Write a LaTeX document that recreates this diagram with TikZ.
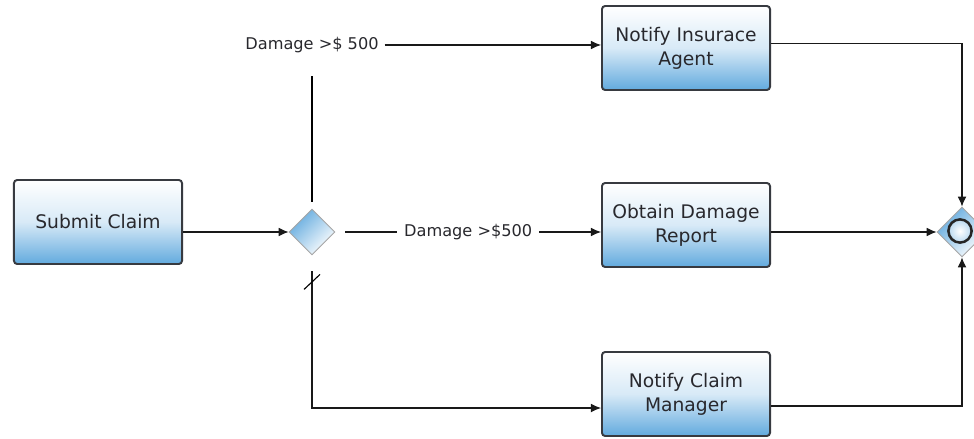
\documentclass[tikz,border=0pt]{standalone}
\usepackage{fontspec}
\setmainfont{DejaVu Sans}
\usetikzlibrary{shapes.geometric,arrows.meta}
\definecolor{taskblue}{RGB}{98,170,222}
\definecolor{edgegray}{RGB}{55,58,64}
\definecolor{inkgray}{RGB}{40,40,45}
\begin{document}
\begin{tikzpicture}[x=0.025cm,y=-0.025cm,
    task/.style={rectangle, rounded corners=0.8mm, draw=edgegray, line width=1.4pt,
        top color=white, bottom color=taskblue, middle color=white!75!taskblue,
        minimum width=4.2cm, minimum height=2.1cm, align=center, text=inkgray,
        font=\fontsize{13.3}{17}\selectfont},
    gate/.style={diamond, aspect=1, inner sep=0pt, draw=black!35, line width=0.6pt,
        shading=axis, left color=taskblue, right color=white, shading angle=45},
    flow/.style={line width=0.8pt, black!90, -{Latex[length=2.5mm,width=2.2mm]}},
    cond/.style={fill=white, inner sep=4pt, text=inkgray, font=\fontsize{11.5}{13}\selectfont}]
    \clip (0,0) rectangle (974,439);

    \node[task] (submit) at (98,222) {Submit Claim};
    \node[gate, minimum width=1.15cm, minimum height=1.15cm] (split) at (312,232) {};
    \node[task] (agent) at (686,48) {Notify Insurace\\Agent};
    \node[task] (report) at (686,225) {Obtain Damage\\Report};
    \node[task] (manager) at (686,394) {Notify Claim\\Manager};
    \node[gate, minimum width=1.25cm, minimum height=1.25cm] (join) at (962,232) {};
    \node[circle, draw=black!85, line width=1.8pt, minimum size=0.58cm, inner sep=0pt,
        inner color=white, outer color=taskblue!45] (joinmark) at (960,231) {};
    \node[cond] (high) at (312,45) {Damage >\$ 500};

    \draw[flow] (submit.east |- split) -- (split.west);
    \draw[line width=0.8pt, shorten <=6\pgflinewidth, shorten >=0.42cm] (split) -- (high);
    \draw[flow] (high) -- (agent.west |- high);
    \draw[flow, shorten <=0.25cm] (split) -- node[cond, inner sep=5pt] (low) {Damage >\$500} (report.west |- split);
    \draw[flow, shorten <=0.4cm] (split) |- ([yshift=-0.35cm]manager.west);
    \draw[line width=0.8pt] ([shift={(-8,34)}]split.south) -- ([shift={(8,19)}]split.south);

    \draw[flow] ([yshift=0.12cm]agent.east) -| (join.north);
    \draw[flow] (report.east |- join) -- (join.west);
    \draw[flow] ([yshift=-0.3cm]manager.east) -| (join.south);
\end{tikzpicture}
\end{document}
